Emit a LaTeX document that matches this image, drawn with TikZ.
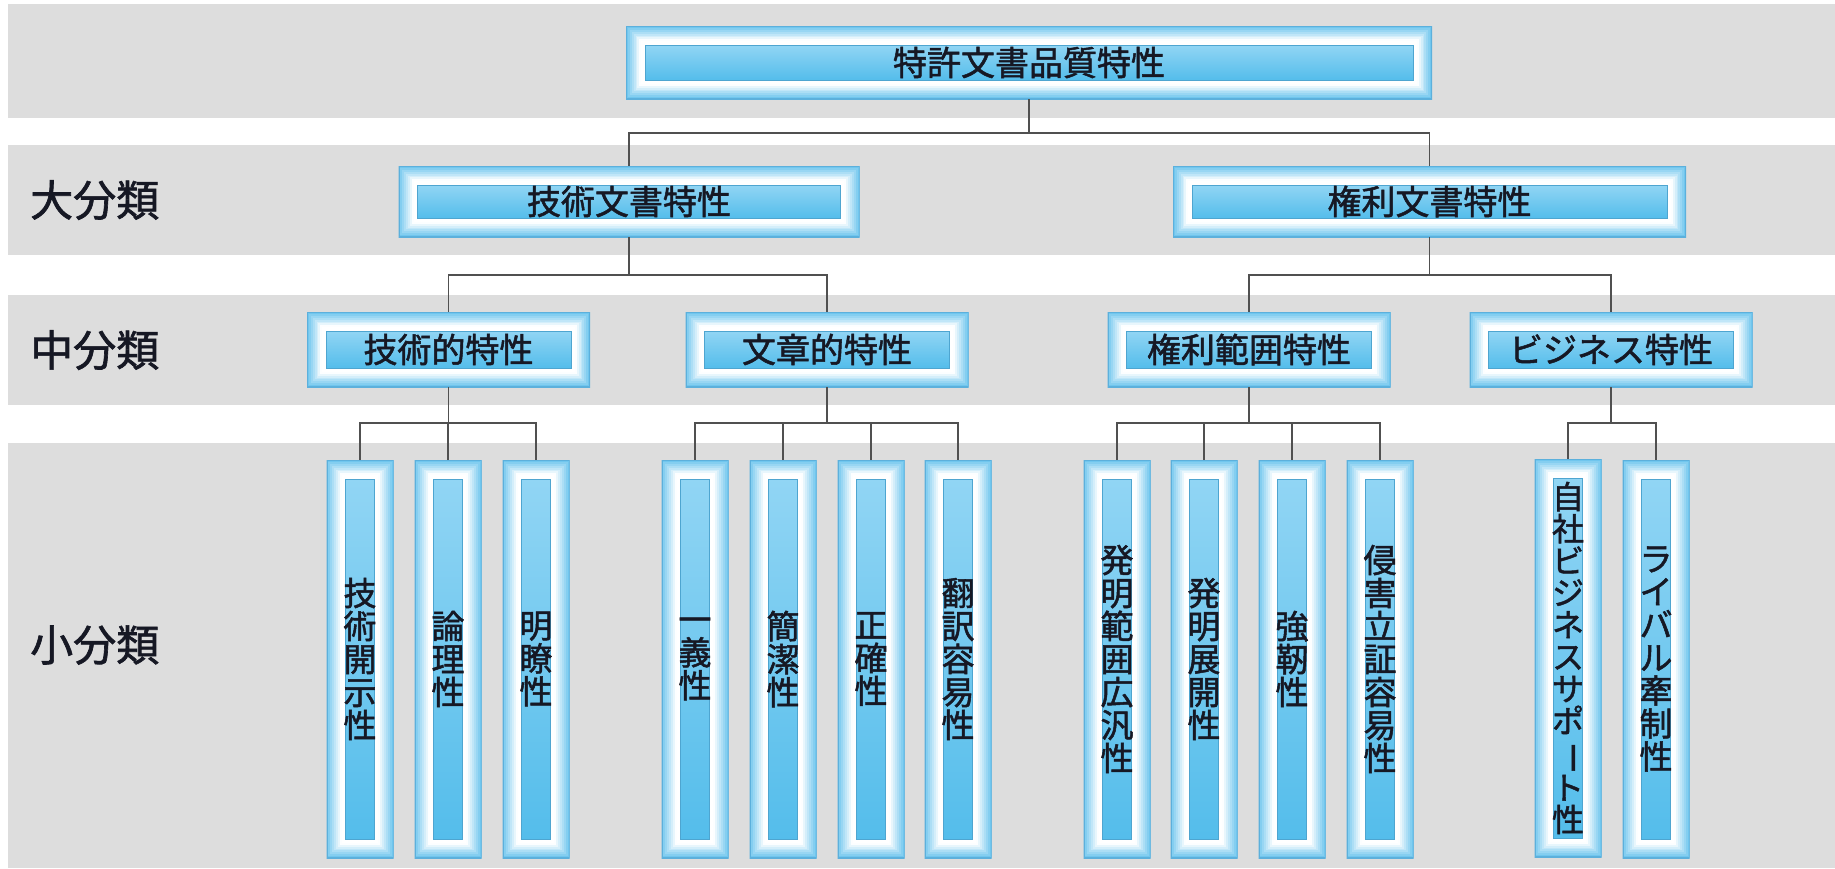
\documentclass[tikz,border=0pt]{standalone}
\usepackage{fontspec}
\setmainfont{Noto Sans CJK JP}
\newfontfamily\jpb{Noto Sans CJK JP}[FakeBold=1.5]
\definecolor{band}{RGB}{221,221,221}
\definecolor{bfr}{RGB}{112,198,238}
\definecolor{bedge}{RGB}{92,176,220}
\definecolor{btop}{RGB}{145,213,244}
\definecolor{bbot}{RGB}{84,189,235}
\definecolor{iedge}{RGB}{78,165,208}
\definecolor{txt}{RGB}{22,24,36}
\definecolor{conn}{RGB}{80,80,80}
\tikzset{
  bev/.style={rectangle, inner sep=0pt, text=txt, path picture={
    \foreach \k in {0,...,9}{
      \pgfmathtruncatemacro\pc{max(0,100-\k*14)}
      \fill[bfr!\pc!white] ([shift={(\k*1.9pt,-\k*1.9pt)}]path picture bounding box.north west) rectangle ([shift={(-\k*1.9pt,\k*1.9pt)}]path picture bounding box.south east);
    }
    \shade[top color=btop, bottom color=bbot] ([shift={(19pt,-19pt)}]path picture bounding box.north west) rectangle ([shift={(-19pt,19pt)}]path picture bounding box.south east);
    \draw[iedge, line width=0.8pt] ([shift={(19pt,-19pt)}]path picture bounding box.north west) rectangle ([shift={(-19pt,19pt)}]path picture bounding box.south east);
    \draw[bedge, line width=2pt] (path picture bounding box.north west) rectangle (path picture bounding box.south east);
  }},
  hbox/.style={bev, font=\jpb\fontsize{34}{34}\selectfont},
  vbox/.style={bev, minimum width=67pt, minimum height=398pt, align=center, font=\jpb\fontsize{33}{33}\selectfont},
  lbl/.style={anchor=west, inner sep=0pt, text=txt, font=\jpb\fontsize{43}{43}\selectfont},
  link/.style={draw=conn, line width=1.6pt},
}
\newcommand\vbar{\rotatebox[origin=c]{-90}{ー}}
\begin{document}
\begin{tikzpicture}[x=1pt,y=-1pt]
\useasboundingbox (0,0) rectangle (1835,868);
\fill[white] (0,0) rectangle (1835,868);
% bands
\fill[band] (8,4) rectangle (1835,118);
\fill[band] (8,145) rectangle (1835,255);
\fill[band] (8,295) rectangle (1835,405);
\fill[band] (8,443) rectangle (1835,868);
% row labels
\node[lbl] (L1) at (30,200) {大分類};
\node[lbl] (L2) at (30,350) {中分類};
\node[lbl] (L3) at (30,645) {小分類};
% top
\node[hbox, minimum width=806pt, minimum height=73pt] (top) at (1029,62.5) {特許文書品質特性};
% level 1
\node[hbox, minimum width=461pt, minimum height=71pt] (tech) at (629,201.5) {技術文書特性};
\node[hbox, minimum width=513pt, minimum height=71pt] (right) at (1429.5,201.5) {権利文書特性};
% level 2
\node[hbox, minimum width=283pt, minimum height=75pt] (mt) at (448.5,349.5) {技術的特性};
\node[hbox, minimum width=283pt, minimum height=75pt] (mb) at (827,349.5) {文章的特性};
\node[hbox, minimum width=283pt, minimum height=75pt] (mr) at (1249,349.5) {権利範囲特性};
\node[hbox, minimum width=283pt, minimum height=75pt] (ms) at (1611,349.5) {ビジネス特性};
% level 3
\node[vbox] (t1) at (360,659) {技\\術\\開\\示\\性};
\node[vbox] (t2) at (448,659) {論\\理\\性};
\node[vbox] (t3) at (536,659) {明\\瞭\\性};
\node[vbox] (b1) at (695,659) {一\\義\\性};
\node[vbox] (b2) at (783,659) {簡\\潔\\性};
\node[vbox] (b3) at (871,659) {正\\確\\性};
\node[vbox] (b4) at (958,659) {翻\\訳\\容\\易\\性};
\node[vbox] (r1) at (1117,659) {発\\明\\範\\囲\\広\\汎\\性};
\node[vbox] (r2) at (1204,659) {発\\明\\展\\開\\性};
\node[vbox] (r3) at (1292,659) {強\\靭\\性};
\node[vbox] (r4) at (1380,659) {侵\\害\\立\\証\\容\\易\\性};
\node[vbox, font=\jpb\fontsize{32}{32}\selectfont] (s1) at (1568,658) {自\\社\\ビ\\ジ\\ネ\\ス\\サ\\ポ\\\vbar\\ト\\性};
\node[vbox] (s2) at (1656,659) {ラ\\イ\\バ\\ル\\牽\\制\\性};
% connectors
\draw[link] (top.south) -- ++(0,34) coordinate (j0);
\draw[link] (tech.north) |- (j0) -| (right.north);
\draw[link] (tech.south) -- ++(0,38) coordinate (j1);
\draw[link] (mt.north) |- (j1) -| (mb.north);
\draw[link] (right.south) -- ++(0,38) coordinate (j2);
\draw[link] (mr.north) |- (j2) -| (ms.north);
\draw[link] (mt.south) -- ++(0,36) coordinate (j3);
\draw[link] (t1.north) |- (j3) -| (t3.north);
\draw[link] (t2.north) -- (t2.north |- j3);
\draw[link] (mb.south) -- ++(0,36) coordinate (j4);
\draw[link] (b1.north) |- (j4) -| (b4.north);
\draw[link] (b2.north) -- (b2.north |- j4);
\draw[link] (b3.north) -- (b3.north |- j4);
\draw[link] (mr.south) -- ++(0,36) coordinate (j5);
\draw[link] (r1.north) |- (j5) -| (r4.north);
\draw[link] (r2.north) -- (r2.north |- j5);
\draw[link] (r3.north) -- (r3.north |- j5);
\draw[link] (ms.south) -- ++(0,36) coordinate (j6);
\draw[link] (s1.north) |- (j6) -| (s2.north);
\end{tikzpicture}
\end{document}
